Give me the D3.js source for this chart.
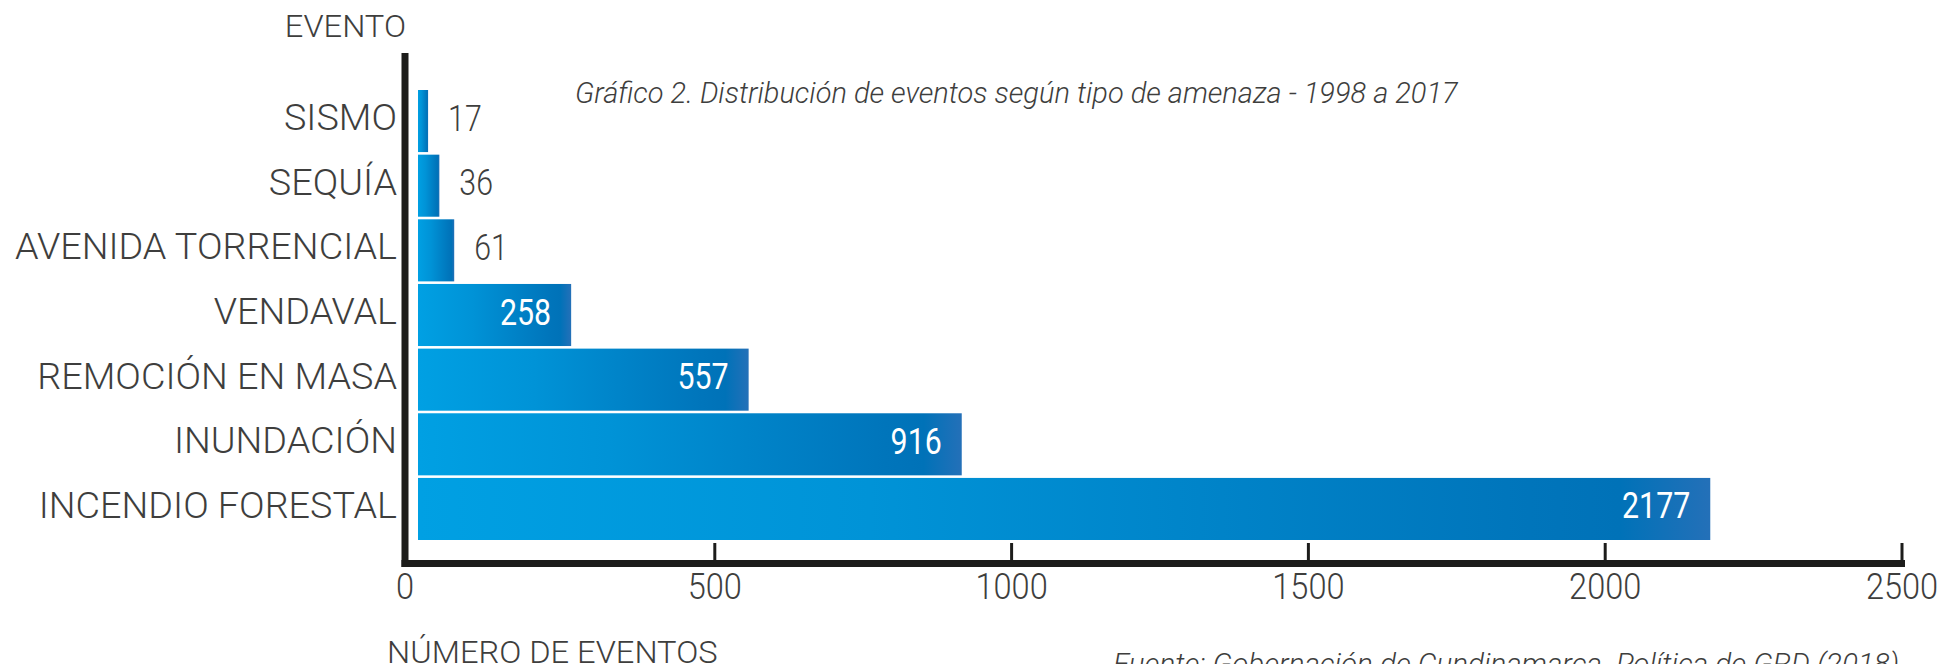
<!DOCTYPE html>
<html>
<head>
<meta charset="utf-8">
<script src="https://cdn.jsdelivr.net/npm/d3@7"></script>
<style>
  html, body { margin: 0; padding: 0; background: #ffffff; }
  svg { display: block; }
</style>
</head>
<body>
<svg id="chart" width="1952" height="664"></svg>
<script>
// ---- data ----
const categories = ["SISMO", "SEQUÍA", "AVENIDA TORRENCIAL", "VENDAVAL", "REMOCIÓN EN MASA", "INUNDACIÓN", "INCENDIO FORESTAL"];
const values = [17, 36, 61, 258, 557, 916, 2177];
const xTicks = [0, 500, 1000, 1500, 2000, 2500];
const titleText = "Gráfico 2. Distribución de eventos según tipo de amenaza - 1998 a 2017";
const yAxisTitle = "EVENTO";
const xAxisTitle = "NÚMERO DE EVENTOS";
const sourceText = "Fuente: Gobernación de Cundinamarca. Política de GRD (2018)";

// ---- setup ----
const svg = d3.select("#chart");
const W = 1952, H = 664;
svg.append("rect").attr("width", W).attr("height", H).attr("fill", "#ffffff");

const FONT = "Roboto, 'Open Sans', Lato, sans-serif";
const TEXT = "#3e3e3d";
const AXIS = "#1d1d1b";
const SX = 1.02; // horizontal scaling of the typeface

const x = d3.scaleLinear().domain([0, 2500]).range([418, 1902]);
const y = d3.scaleBand().domain(categories).range([90, 540]).paddingInner(0.04).paddingOuter(0);

function addText(parent, tx, ty, str, o) {
  const g = parent.append("g").attr("transform", `translate(${tx},${ty}) scale(${o.sx || SX},1)`);
  return g.append("text")
    .attr("x", 0).attr("y", 0)
    .attr("text-anchor", o.anchor || "start")
    .attr("font-family", FONT)
    .attr("font-size", o.size)
    .attr("font-weight", o.weight || 300)
    .attr("font-style", o.style || "normal")
    .attr("fill", o.fill || TEXT)
    .text(str);
}

// ---- gradient ----
const defs = svg.append("defs");
const grad = defs.append("linearGradient").attr("id", "barGrad")
  .attr("x1", "0%").attr("x2", "100%").attr("y1", "0%").attr("y2", "0%");
[[0, "#00a0e3"], [0.35, "#0093d7"], [0.86, "#0075bb"], [0.93, "#0072b8"], [1, "#2470b8"]]
  .forEach(([o, c]) => grad.append("stop").attr("offset", o).attr("stop-color", c));

// ---- bars ----
const bars = svg.append("g");
bars.selectAll("rect").data(categories).join("rect")
  .attr("x", x(0))
  .attr("y", d => y(d))
  .attr("width", (d, i) => x(values[i]) - x(0))
  .attr("height", y.bandwidth())
  .attr("fill", "url(#barGrad)");

// ---- value labels ----
const vl = svg.append("g");
categories.forEach((c, i) => {
  const v = values[i];
  const cy = y(c) + y.bandwidth() / 2 + 9.5;
  const inside = (x(v) - x(0)) > 100;
  if (inside) {
    addText(vl, x(v) - 20, cy, String(v), { size: 37, anchor: "end", fill: "#ffffff", weight: 400, sx: 0.82 });
  } else {
    addText(vl, x(v) + 20, cy, String(v), { size: 37, anchor: "start", weight: 300, sx: 0.82 });
  }
});

// ---- category labels ----
const cl = svg.append("g");
categories.forEach(c => {
  addText(cl, 397, y(c) + y.bandwidth() / 2 + 9, c, { size: 37, anchor: "end" });
});

// ---- axes ----
const axisG = svg.append("g");
const axisX0 = x(0) - 13;
axisG.append("line")
  .attr("x1", axisX0).attr("x2", axisX0)
  .attr("y1", 53).attr("y2", 567)
  .attr("stroke", AXIS).attr("stroke-width", 7);
axisG.append("line")
  .attr("x1", axisX0 - 3.5).attr("x2", x(2500) + 3)
  .attr("y1", 563.5).attr("y2", 563.5)
  .attr("stroke", AXIS).attr("stroke-width", 7);

axisG.selectAll("line.tick").data(xTicks.filter(t => t > 0)).join("line")
  .attr("class", "tick")
  .attr("x1", d => x(d)).attr("x2", d => x(d))
  .attr("y1", 543).attr("y2", 560)
  .attr("stroke", AXIS).attr("stroke-width", 3);

xTicks.forEach(t => {
  const tx = t === 0 ? axisX0 : x(t);
  addText(axisG, tx, 599, String(t), { size: 37, anchor: "middle", sx: 0.88 });
});

// ---- titles ----
addText(svg, 406, 36.5, yAxisTitle, { size: 32, anchor: "end" });
addText(svg, 387, 663, xAxisTitle, { size: 32, anchor: "start" });
addText(svg, 575, 102.5, titleText, { size: 29, anchor: "start", style: "italic", weight: 300, sx: 1.0 });
addText(svg, 1113, 674, sourceText, { size: 29, anchor: "start", style: "italic", weight: 300, sx: 1.02 });
</script>
</body>
</html>
